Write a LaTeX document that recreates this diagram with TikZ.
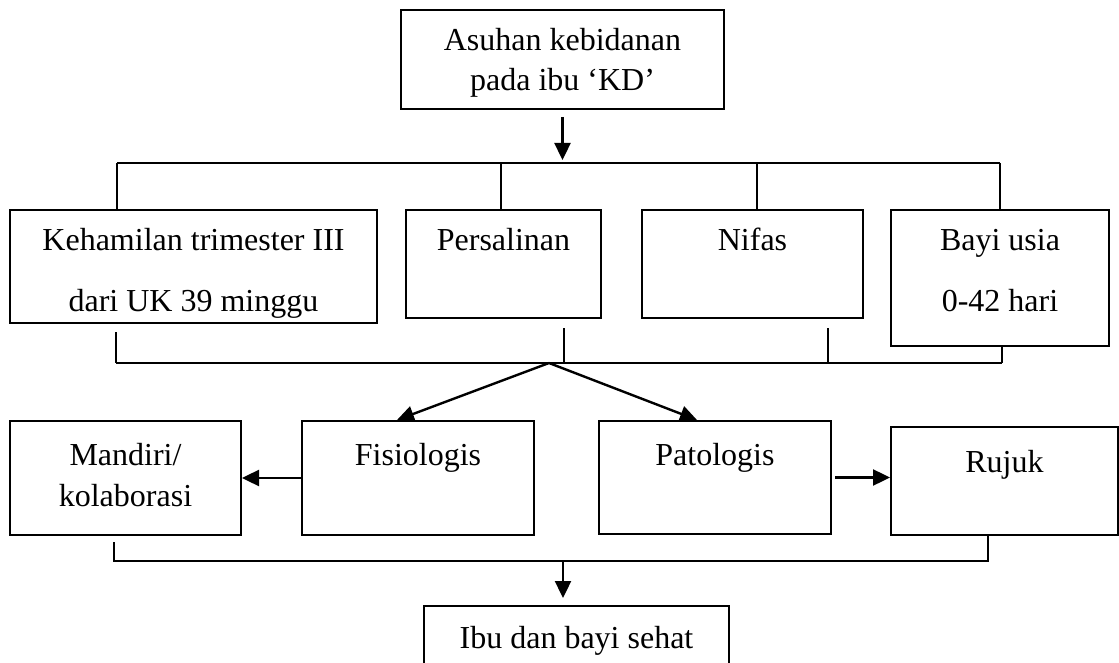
\documentclass[tikz,border=0pt]{standalone}
\usepackage{fontspec}
\setmainfont{Liberation Serif}
\usetikzlibrary{positioning,arrows.meta}

\begin{document}
\begin{tikzpicture}
            [
            x=0.5pt, y=-0.5pt,
            box/.style={draw, line width=1pt, align=center, inner sep=0pt,
                font=\fontsize{16}{18}\selectfont, anchor=north west},
            bus/.style={line width=0.6pt},
            my arrow/.style={line width=1.2pt, -{Triangle[length=8.5pt, width=8pt]}}
            ]

            \useasboundingbox (0,0) rectangle (1119,663);
            \clip (0,0) rectangle (1119,663);

            \node (a0) [box, minimum width=161.5pt, text height=40.5pt, text depth=9pt] at (400,9) {Asuhan kebidanan\\[2pt]pada ibu `KD'};

            % First row
            \node (b0) [box, minimum width=183.5pt, text height=51pt, text depth=5.5pt] at (9,209) {Kehamilan trimester III\\[12.5pt]dari UK 39 minggu};
            \node (c0) [box, minimum width=97.5pt, text height=20.5pt, text depth=33.5pt] at (405,209) {Persalinan};
            \node (d0) [box, minimum width=110.5pt, text height=20.5pt, text depth=33.5pt] at (641,209) {Nifas};
            \node (e0) [box, minimum width=109pt, text height=51pt, text depth=17pt] at (890,209) {Bayi usia\\[12.5pt]0-42 hari};

            % Second row
            \node (f0) [box, minimum width=115.5pt, text height=42.5pt, text depth=14.5pt] at (9,420) {Mandiri/\\[2.5pt]kolaborasi};
            \node (g0) [box, minimum width=116pt, text height=22pt, text depth=35pt] at (301,420) {Fisiologis};
            \node (h0) [box, minimum width=116pt, text height=22pt, text depth=34.5pt] at (598,420) {Patologis};
            \node (i0) [box, minimum width=113.5pt, text height=22.5pt, text depth=31.5pt] at (890,426) {Rujuk};

            \node (j0) [box, minimum width=152.5pt, text height=21pt, text depth=20pt] at (423,605) {Ibu dan bayi sehat};

            \coordinate (t0) at (563,163);
            \coordinate (m0) at (549,363);
            \coordinate (l0) at (563,561);

            \draw [my arrow, shorten <=3.5pt, shorten >=1.5pt] (a0.south) -- (a0.south |- t0);
            \draw [bus] (117,163) -- (1000,163);
            \foreach \n/\x in {b0/117, c0/501, d0/757, e0/1000}
                \draw [bus] (\x,163) -- (\x,163 |- \n.north);

            \foreach \n/\x/\g in {b0/116/8, c0/564/9, d0/828/9, e0/1002/0}
                \draw [bus] (\x,0 |- \n.south) ++(0,\g) -- (\x,363);
            \draw [bus] (116,363) -- (1002,363);

            \draw [my arrow] (m0) -- ([xshift=-10.5pt]g0.north);
            \draw [my arrow] (m0) -- ([xshift=-9pt]h0.north);
            \draw [my arrow] (g0.west) -- (f0.east);
            \draw [my arrow, shorten <=1.5pt] (h0.east) -- (h0.east -| i0.west);

            \draw [bus] (114,0 |- f0.south) ++(0,6) -- (114,561) -- (988,561) -- (988,0 |- i0.south);
            \draw [my arrow, shorten >=3.5pt] (l0) -- (l0 |- j0.north);

        \end{tikzpicture}
\end{document}
